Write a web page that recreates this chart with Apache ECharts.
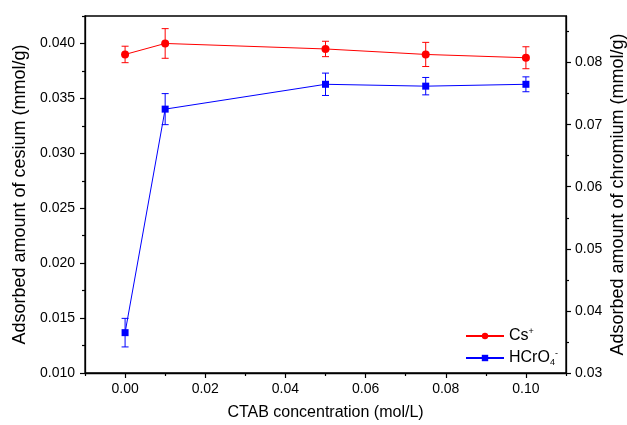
<!DOCTYPE html>
<html>
<head>
<meta charset="utf-8">
<script src="https://cdn.jsdelivr.net/npm/echarts@6/dist/echarts.min.js"></script>
<style>
  html, body { margin: 0; padding: 0; background: #fff; }
  #grafico { width: 627px; height: 425px; }
</style>
</head>
<body>
<div id="grafico"></div>
<script>
// Datos
const concentration = [0, 0.01, 0.05, 0.075, 0.10];
const cesium = [0.0390, 0.0400, 0.0395, 0.0390, 0.0387];
const cesiumErr = [0.00075, 0.00135, 0.0007, 0.0011, 0.001];
const chromium = [0.0365, 0.0725, 0.0765, 0.0762, 0.0765];
const chromiumErr = [0.0023, 0.0025, 0.0018, 0.0014, 0.0012];

// Marcas de los ejes
const xMajor = [0, 0.02, 0.04, 0.06, 0.08, 0.10];
const xMinor = [-0.01, 0.01, 0.03, 0.05, 0.07, 0.09, 0.11];
const leftMajor = [0.010, 0.015, 0.020, 0.025, 0.030, 0.035, 0.040];
const leftMinor = [0.0125, 0.0175, 0.0225, 0.0275, 0.0325, 0.0375, 0.0425];
const rightMajor = [0.03, 0.04, 0.05, 0.06, 0.07, 0.08];
const rightMinor = [0.035, 0.045, 0.055, 0.065, 0.075, 0.085];

const chartDom = document.getElementById('grafico');
const myChart = echarts.init(chartDom);

const FONT = 'Liberation Sans, Arial, sans-serif';
const RED = '#ff0000';
const BLUE = '#0000ff';

// Barras de error (línea vertical + remates)
function errorBars(color) {
    return function (params, api) {
        const x = api.value(0);
        const top = api.coord([x, api.value(2)]);
        const bot = api.coord([x, api.value(1)]);
        const w = 3.5;
        const style = { stroke: color, lineWidth: 1 };
        return {
            type: 'group',
            children: [
                { type: 'line', shape: { x1: top[0], y1: top[1], x2: bot[0], y2: bot[1] }, style: style },
                { type: 'line', shape: { x1: top[0] - w, y1: top[1], x2: top[0] + w, y2: top[1] }, style: style },
                { type: 'line', shape: { x1: bot[0] - w, y1: bot[1], x2: bot[0] + w, y2: bot[1] }, style: style }
            ]
        };
    };
}

const axisLineStyle = { color: '#000', width: 1.3 };
const labelStyle = { color: '#000', fontSize: 14, fontFamily: FONT };

function ticks(values, len) {
    return { show: true, customValues: values, length: len, lineStyle: { color: '#000', width: 1.2 } };
}

function minorAxis(extra) {
    return Object.assign({
        type: 'value',
        axisLine: { show: false, onZero: false },
        axisLabel: { show: false },
        splitLine: { show: false }
    }, extra);
}

const option = {
    animation: false,
    backgroundColor: '#fff',
    grid: {
        left: 85, right: 61, top: 16, bottom: 52,
        show: true, borderColor: '#000', borderWidth: 1.3,
        outerBoundsMode: 'none'
    },
    legend: {
        orient: 'vertical',
        left: 460, top: 322,
        itemWidth: 38, itemHeight: 8, itemGap: 5,
        data: ['Cs+', 'HCrO4-'],
        formatter: function (name) {
            if (name === 'Cs+') return '{t|Cs}{sup|+}';
            return '{t|HCrO}{sub|4}{sup|-}';
        },
        textStyle: {
            color: '#000', fontFamily: FONT, fontSize: 16,
            rich: {
                t: { fontSize: 16, fontFamily: FONT, color: '#000' },
                sup: { fontSize: 9, fontFamily: FONT, color: '#000', verticalAlign: 'top', lineHeight: 18 },
                sub: { fontSize: 9, fontFamily: FONT, color: '#000', verticalAlign: 'bottom', lineHeight: 18 }
            }
        }
    },
    xAxis: [
        {
            type: 'value', min: -0.01, max: 0.11,
            name: 'CTAB concentration (mol/L)',
            nameLocation: 'middle', nameGap: 32, nameMoveOverlap: false,
            nameTextStyle: { color: '#000', fontSize: 16, fontFamily: FONT },
            axisLine: { onZero: false, lineStyle: axisLineStyle },
            axisTick: ticks(xMajor, 5),
            axisLabel: Object.assign({ customValues: xMajor, margin: 9, formatter: v => v.toFixed(2) }, labelStyle),
            splitLine: { show: false }
        },
        minorAxis({ min: -0.01, max: 0.11, position: 'bottom', axisTick: ticks(xMinor, 3) })
    ],
    yAxis: [
        {
            type: 'value', min: 0.010, max: 0.0425, position: 'left',
            name: 'Adsorbed amount of cesium (mmol/g)',
            nameLocation: 'middle', nameGap: 56, nameMoveOverlap: false,
            nameTextStyle: { color: '#000', fontSize: 18, fontFamily: FONT },
            axisLine: { onZero: false, lineStyle: axisLineStyle },
            axisTick: ticks(leftMajor, 5),
            axisLabel: Object.assign({ customValues: leftMajor, margin: 10, formatter: v => v.toFixed(3) }, labelStyle),
            splitLine: { show: false }
        },
        {
            type: 'value', min: 0.03, max: 0.0875, position: 'right',
            name: 'Adsorbed amount of chromium (mmol/g)',
            nameLocation: 'middle', nameGap: 43, nameMoveOverlap: false,
            nameTextStyle: { color: '#000', fontSize: 18, fontFamily: FONT },
            axisLine: { onZero: false, lineStyle: axisLineStyle },
            axisTick: ticks(rightMajor, 5),
            axisLabel: Object.assign({ customValues: rightMajor, margin: 9, formatter: v => v.toFixed(2) }, labelStyle),
            splitLine: { show: false }
        },
        minorAxis({ min: 0.010, max: 0.0425, position: 'left', offset: 0, axisTick: ticks(leftMinor, 3) }),
        minorAxis({ min: 0.03, max: 0.0875, position: 'right', offset: 0, axisTick: ticks(rightMinor, 3) })
    ],
    series: [
        {
            name: 'Cs+', type: 'line', xAxisIndex: 0, yAxisIndex: 0,
            data: concentration.map((c, i) => [c, cesium[i]]),
            symbol: 'circle', symbolSize: 8,
            itemStyle: { color: RED },
            lineStyle: { color: RED, width: 1 },
            z: 5
        },
        {
            name: 'HCrO4-', type: 'line', xAxisIndex: 0, yAxisIndex: 1,
            data: concentration.map((c, i) => [c, chromium[i]]),
            symbol: 'rect', symbolSize: 7,
            itemStyle: { color: BLUE },
            lineStyle: { color: BLUE, width: 1 },
            z: 5
        },
        {
            type: 'custom', xAxisIndex: 0, yAxisIndex: 0,
            renderItem: errorBars(RED),
            encode: { x: 0, y: [1, 2] },
            data: concentration.map((c, i) => [c, cesium[i] - cesiumErr[i], cesium[i] + cesiumErr[i]]),
            z: 4
        },
        {
            type: 'custom', xAxisIndex: 0, yAxisIndex: 1,
            renderItem: errorBars(BLUE),
            encode: { x: 0, y: [1, 2] },
            data: concentration.map((c, i) => [c, chromium[i] - chromiumErr[i], chromium[i] + chromiumErr[i]]),
            z: 4
        }
    ]
};

option && myChart.setOption(option);

window.addEventListener('resize', () => {
    myChart.resize();
});
</script>
</body>
</html>
